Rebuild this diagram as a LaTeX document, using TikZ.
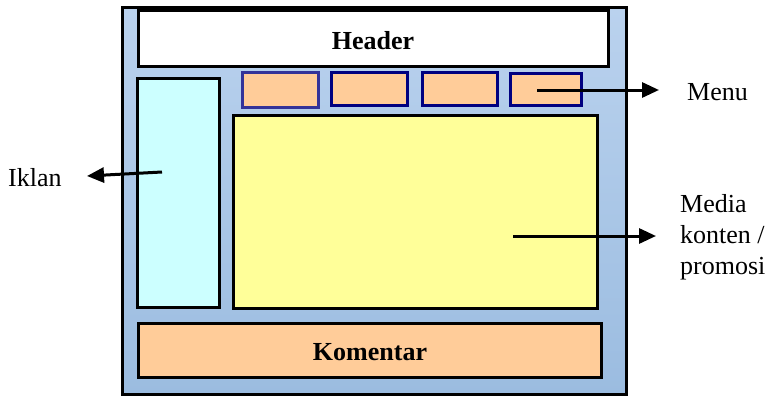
\documentclass[tikz,border=0pt]{standalone}
\usepackage{fontspec}
\setmainfont{Liberation Serif}
\usetikzlibrary{arrows.meta}
\definecolor{frametop}{RGB}{186,210,238}
\definecolor{framebot}{RGB}{155,188,224}
\definecolor{iklanfill}{RGB}{204,255,255}
\definecolor{mediafill}{RGB}{255,255,153}
\definecolor{orangefill}{RGB}{255,204,153}
\definecolor{navyA}{RGB}{51,51,153}
\definecolor{navyB}{RGB}{0,0,128}
\begin{document}
\begin{tikzpicture}[x=1pt,y=-1pt,
  box/.style={draw=black,line width=3pt},
  menubox/.style={line width=3pt,fill=orangefill},
  lbl/.style={font=\fontsize{26}{31}\selectfont,inner sep=0pt},
  blbl/.style={font=\fontsize{26}{31}\selectfont\bfseries,inner sep=0pt},
  arr/.style={line width=3pt,-{Triangle[length=17pt,width=15pt]}}]
\useasboundingbox (0,0) rectangle (770,396);
% outer frame
\path[top color=frametop,bottom color=framebot] (122,8) rectangle (626,394);
\draw[line width=3pt] (122,8) rectangle (626,394);
% header
\draw[box,fill=white] (138,11) rectangle (608,66);
\node[blbl] (header) at (373,41) {Header};
% menu boxes
\draw[menubox,draw=navyA] (242,72) rectangle (318,107);
\draw[menubox,draw=navyB] (331,72) rectangle (407,105);
\draw[menubox,draw=navyB] (422,72) rectangle (497,105);
\draw[menubox,draw=navyB] (510,73) rectangle (581,105);
% iklan
\draw[box,fill=iklanfill] (137,78) rectangle (219,307);
% media
\draw[box,fill=mediafill] (233,115) rectangle (597,308);
% komentar
\draw[box,fill=orangefill] (138,323) rectangle (601,377);
\node[blbl] (komentar) at (370,352) {Komentar};
% labels
\node[lbl,anchor=west] (menulbl) at (687,92) {Menu};
\node[lbl,anchor=west] (iklanlbl) at (8,178) {Iklan};
\node[lbl,anchor=west,align=left] (medialbl) at (680,237) {Media\\konten /\\promosi};
% arrows
\coordinate (menuA) at (537,90);
\coordinate (menuB) at (659,90);
\coordinate (iklanA) at (162,172);
\coordinate (iklanB) at (87,176);
\coordinate (mediaA) at (513,236);
\coordinate (mediaB) at (656,236);
\draw[arr] (menuA) -- (menuB);
\draw[arr] (iklanA) -- (iklanB);
\draw[arr] (mediaA) -- (mediaB);
\end{tikzpicture}
\end{document}
